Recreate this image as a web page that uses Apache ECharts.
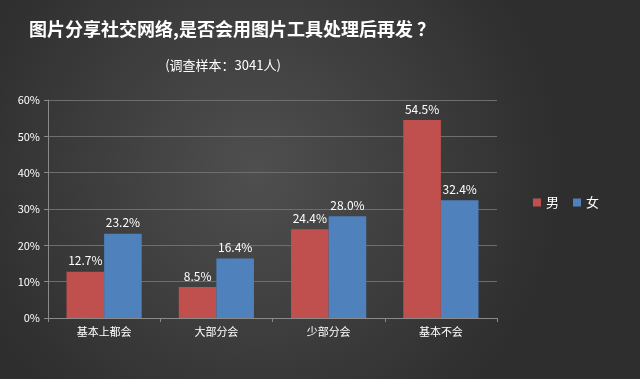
<!DOCTYPE html>
<html><head><meta charset="utf-8">
<script src="https://cdn.jsdelivr.net/npm/echarts@6/dist/echarts.min.js"></script>
<style>html,body{margin:0;padding:0;}#c{width:640px;height:379px;}</style>
</head><body><div id="c"></div>
<script>
const categories = ['基本上都会', '大部分会', '少部分会', '基本不会'];
const male = [12.7, 8.5, 24.4, 54.5];
const female = [23.2, 16.4, 28.0, 32.4];
const seriesNames = ['男', '女'];
const titleText = '图片分享社交网络,是否会用图片工具处理后再发 ？';
const subtitleText = '(调查样本：3041人)';

const chart = echarts.init(document.getElementById('c'));
const font = '"Microsoft YaHei","Noto Sans CJK SC",sans-serif';
chart.setOption({
  backgroundColor: {
    type: 'radial', x: 0.4, y: 0.45, r: 0.8,
    colorStops: [{offset: 0, color: '#4f4f4f'}, {offset: 1, color: '#2e2e2e'}]
  },
  graphic: [{
    type: 'text', x: 232, y: 29,
    style: {text: titleText, fill: '#ffffff', font: 'bold 18px ' + font, textAlign: 'center', textVerticalAlign: 'middle'}
  }, {
    type: 'text', x: 223, y: 65,
    style: {text: subtitleText, fill: '#ffffff', font: '13px ' + font, textAlign: 'center', textVerticalAlign: 'middle'}
  }],
  legend: {
    data: seriesNames, left: 528, top: 191, itemWidth: 8, itemHeight: 8, itemGap: 14,
    icon: 'rect',
    textStyle: {color: '#ffffff', fontSize: 13, fontFamily: font}
  },
  grid: {left: 48, right: 143, top: 100, bottom: 61},
  xAxis: {
    type: 'category', data: categories,
    axisLine: {lineStyle: {color: '#8a8a8a'}},
    axisTick: {show: true, alignWithLabel: false, lineStyle: {color: '#8a8a8a'}, length: 4},
    axisLabel: {color: '#ffffff', fontSize: 11, fontFamily: font, margin: 8}
  },
  yAxis: {
    type: 'value', min: 0, max: 60, interval: 10,
    axisLine: {show: true, lineStyle: {color: '#8a8a8a'}},
    axisTick: {show: true, lineStyle: {color: '#8a8a8a'}, length: 4},
    axisLabel: {color: '#ffffff', fontSize: 11, fontFamily: font, formatter: '{value}%', margin: 8},
    splitLine: {lineStyle: {color: '#6e6e6e'}}
  },
  series: [{
    name: seriesNames[0], type: 'bar', data: male, barGap: '0%', barCategoryGap: '33%',
    itemStyle: {color: '#c0504d'},
    label: {show: true, position: 'top', color: '#ffffff', fontSize: 12, fontFamily: font,
      formatter: p => p.value.toFixed(1) + '%'}
  }, {
    name: seriesNames[1], type: 'bar', data: female,
    itemStyle: {color: '#4f81bd'},
    label: {show: true, position: 'top', color: '#ffffff', fontSize: 12, fontFamily: font,
      formatter: p => p.value.toFixed(1) + '%'}
  }]
});
</script></body></html>
